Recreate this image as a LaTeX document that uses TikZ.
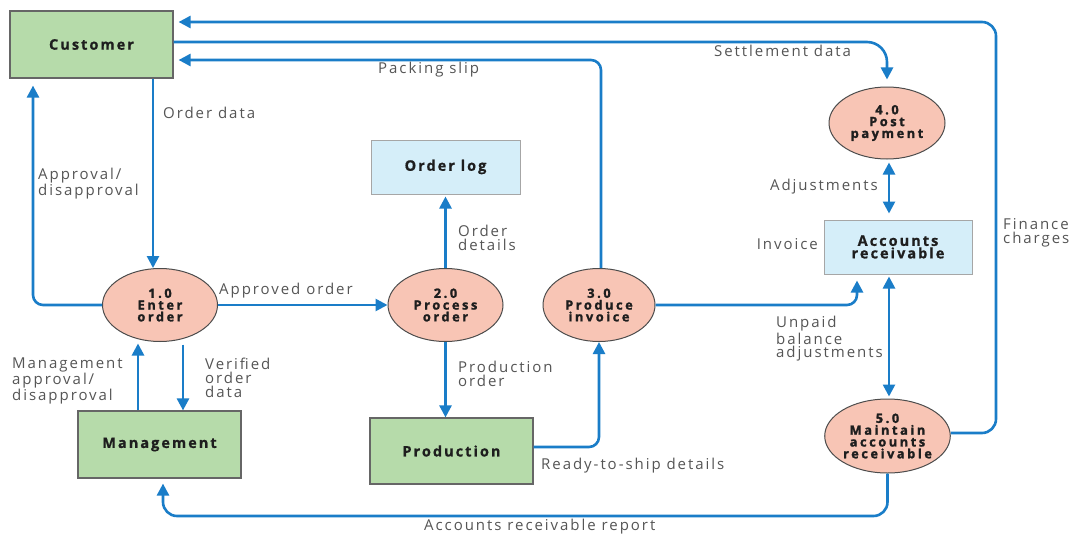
\documentclass[tikz,border=0pt]{standalone}
\usepackage{fontspec}
\setmainfont{Open Sans}[LetterSpace=13]
\usetikzlibrary{shapes.geometric,arrows.meta}
\definecolor{flowc}{HTML}{1A7DC8}
\definecolor{extc}{HTML}{B6DBAA}
\definecolor{storec}{HTML}{D5EEF9}
\definecolor{procc}{HTML}{F8C5B5}
\definecolor{lblc}{HTML}{555555}
\definecolor{darkt}{HTML}{1E1E1E}
\tikzset{
  entity/.style={draw=black!60, line width=1.2pt, fill=extc, inner sep=0pt, text=darkt,
    font=\bfseries\fontsize{14.5}{14}\selectfont\addfontfeatures{LetterSpace=14,FakeBold=0.8}},
  storebox/.style={draw=black!35, line width=1pt, fill=storec, inner sep=0pt, align=center, text=darkt,
    font=\bfseries\fontsize{14.5}{12.5}\selectfont\addfontfeatures{LetterSpace=14,FakeBold=0.8}},
  procnode/.style={ellipse, draw=black!70, line width=1pt, fill=procc, inner sep=0pt,
    minimum width=115pt, minimum height=73pt, align=center, text=darkt,
    font=\bfseries\fontsize{12.8}{11.8}\selectfont\addfontfeatures{LetterSpace=20,FakeBold=1.6}},
  flow/.style={draw=flowc, line width=2.6pt, rounded corners=10pt,
    -{Triangle[length=12pt,width=12pt]}},
  bflow/.style={flow, {Triangle[length=12pt,width=12pt]}-{Triangle[length=12pt,width=12pt]}},
  lab/.style={text=lblc, inner sep=0pt, align=left,
    font=\fontsize{15}{13.8}\selectfont},
}
\begin{document}
\begin{tikzpicture}[x=1pt,y=-1pt]
\useasboundingbox (0,0) rectangle (1073,535);
\fill[white] (0,0) rectangle (1073,535);
% external entities
\node[entity, minimum width=163pt, minimum height=67pt] (cust) at (91.5,44.5) {Customer};
\node[entity, minimum width=163pt, minimum height=67pt] (mgmt) at (159.5,444.5) {Management};
\node[entity, minimum width=163pt, minimum height=66pt] (prod) at (451.5,451) {Production};
% data stores
\node[storebox, minimum width=149pt, minimum height=54pt] (olog) at (445.5,167) {Order log};
\node[storebox, minimum width=148pt, minimum height=54pt] (ar) at (898,247) {Accounts\\receivable};
% processes
\node[procnode] (p1) at (160,305) {1.0\\Enter\\order};
\node[procnode] (p2) at (445.5,305) {2.0\\Process\\order};
\node[procnode, minimum width=112pt] (p3) at (599,305) {3.0\\Produce\\invoice};
\node[procnode, minimum width=116pt, minimum height=72pt] (p4) at (887,123) {4.0\\Post\\payment};
\node[procnode, minimum height=74pt] (p5) at (887.5,436) {5.0\\Maintain\\accounts\\receivable};
% helper coordinates
\coordinate (ma) at ([xshift=-21.5pt]mgmt.north);
\coordinate (mv) at ([xshift=23.5pt]mgmt.north);
\coordinate (fc) at (996,22);
\coordinate (arr) at (0,516);
% flows
\draw[flow] ([xshift=61.5pt]cust.south) -- ([xshift=-7pt]p1.north);
\draw[flow] (p1.west) -| ([xshift=-58.5pt,yshift=-7pt]cust.south);
\draw[flow, shorten >=1.5pt] (ma) -- (ma |- p1.south);
\draw[flow, shorten <=2.5pt] (mv |- p1.south) -- (mv);
\draw[flow] (p1.east) -- (p2.west);
\draw[flow, shorten >=2pt] (p2.north) -- (p2.north |- olog.south);
\draw[flow] (p2.south) -- (p2.south |- prod.north);
\draw[flow] ([yshift=4pt]prod.east) -| (p3.south);
\draw[flow, shorten >=5pt] ([xshift=2pt]p3.north) |- ([yshift=-15.5pt]cust.east);
\draw[flow, rounded corners=20pt, shorten >=7pt] ([yshift=2.5pt]cust.east) -| (p4.north);
\draw[bflow, shorten <=3pt, shorten >=6pt] ([xshift=2pt]p4.south) -- ([xshift=2pt]p4.south |- ar.north);
\draw[flow, shorten >=6pt] (p3.east) -| ([xshift=-41pt]ar.south);
\draw[bflow, shorten <=2pt, shorten >=2pt] ([xshift=1.5pt]p5.north |- ar.south) -- ([xshift=1.5pt]p5.north);
\draw[flow, rounded corners=14pt, shorten >=5pt] ([yshift=3pt]p5.east) -| (fc) -- ([yshift=22.5pt]cust.east);
\draw[flow, rounded corners=14pt, shorten >=5pt] (p5.south) -- (p5.south |- arr) -| ([xshift=3.5pt]mgmt.south);
% labels
\node[lab, anchor=west] (l1) at (163,113) {Order data};
\node[lab, anchor=west] (l2) at (38,183.5) {Approval/\\disapproval};
\node[lab, anchor=west] (l3) at (12,381) {Management\\approval/\\disapproval};
\node[lab, anchor=west] (l4) at (205,378) {Verified\\order\\data};
\node[lab, anchor=west] (l5) at (219,291) {Approved order};
\node[lab, anchor=west] (l6) at (458,237.5) {Order\\details};
\node[lab, anchor=west] (l7) at (458,374) {Production\\order};
\node[lab, anchor=west] (l8) at (541,466) {Ready-to-ship details};
\node[lab, anchor=west] (l9) at (378,70) {Packing slip};
\node[lab, anchor=west] (l10) at (714,51) {Settlement data};
\node[lab, anchor=east] (l11) at (878,187) {Adjustments};
\node[lab, anchor=east] (l12) at (818,244) {Invoice};
\node[lab, anchor=west] (l13) at (1003,233) {Finance\\charges};
\node[lab, anchor=west] (l14) at (776,339) {Unpaid\\balance\\adjustments};
\node[lab, anchor=west] (l15) at (424,527) {Accounts receivable report};
\end{tikzpicture}
\end{document}
